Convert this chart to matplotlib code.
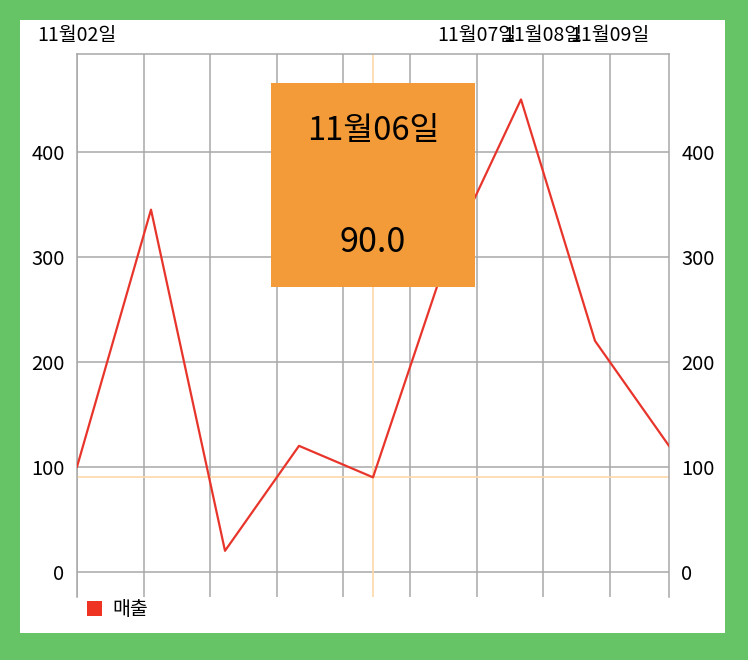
import matplotlib
matplotlib.use("Agg")
import matplotlib.pyplot as plt
from matplotlib.patches import Rectangle, Patch

plt.rcParams['font.family'] = ['Noto Sans CJK KR', 'DejaVu Sans']

values = [100, 345, 20, 120, 90, 300, 450, 220, 120]
series_name = '매출'
top_labels = ['11월02일', '', '', '', '', '', '11월07일', '11월08일', '11월09일']
grid_step = 0.9
sel_index = 4
sel_label = '11월06일'

line_color = '#E8352B'
grid_color = '#A8A8A8'
cross_color = '#FDD8A8'
tip_color = '#F29B38'

fig = plt.figure(figsize=(7.48, 6.6), dpi=100, facecolor='#66C466')
fig.patches.append(Rectangle((20 / 748, 27 / 660), 705 / 748, 613 / 660,
                             transform=fig.transFigure, facecolor='white',
                             edgecolor='none', zorder=-10))

ax = fig.add_axes([77 / 748, 1 - 597 / 660, 592 / 748, (597 - 54.3) / 660])
ax.set_facecolor('none')

xs = list(range(len(values)))
ax.plot(xs, values, color=line_color, lw=1.6, zorder=3, label=series_name)

ax.set_xlim(0, len(values) - 1)
ax.set_ylim(-24, 493)

# crosshair on selected point
ax.axvline(sel_index, color=cross_color, lw=1.2, zorder=2)
ax.axhline(values[sel_index], color=cross_color, lw=1.2, zorder=2)

# grid
ax.set_xticks([i * grid_step for i in range(len(top_labels))])
ax.set_xticklabels(top_labels)
ax.xaxis.tick_top()
ax.set_yticks([0, 100, 200, 300, 400])
ax.grid(True, color=grid_color, lw=1.1, zorder=1)
ax.set_axisbelow(True)
ax.tick_params(axis='x', length=0, pad=6, labelsize=14)
ax.tick_params(axis='y', length=0, pad=9, labelsize=14.5, labelright=True)

for s in ['top', 'left', 'right']:
    ax.spines[s].set_color(grid_color)
    ax.spines[s].set_linewidth(1.1)
ax.spines['bottom'].set_visible(False)

# tooltip box
w = 2.75
ax.add_patch(Rectangle((sel_index - w / 2, 271.4), w, 465.7 - 271.4,
                       facecolor=tip_color, edgecolor='none', zorder=5))
ax.text(sel_index, 420, sel_label, ha='center', va='center', fontsize=23.5, zorder=6)
ax.text(sel_index, 314, f'{values[sel_index]:.1f}', ha='center', va='center',
        fontsize=24.5, zorder=6)

handle = Patch(facecolor='#EE3322', edgecolor='none')
ax.legend([handle], [series_name], loc='upper left', bbox_to_anchor=(0.01, 0.003),
          frameon=False, fontsize=14, handlelength=0.8, handleheight=0.8,
          handletextpad=0.5, borderpad=0.2, borderaxespad=0)

fig.savefig('out.png', dpi=100, facecolor=fig.get_facecolor())
